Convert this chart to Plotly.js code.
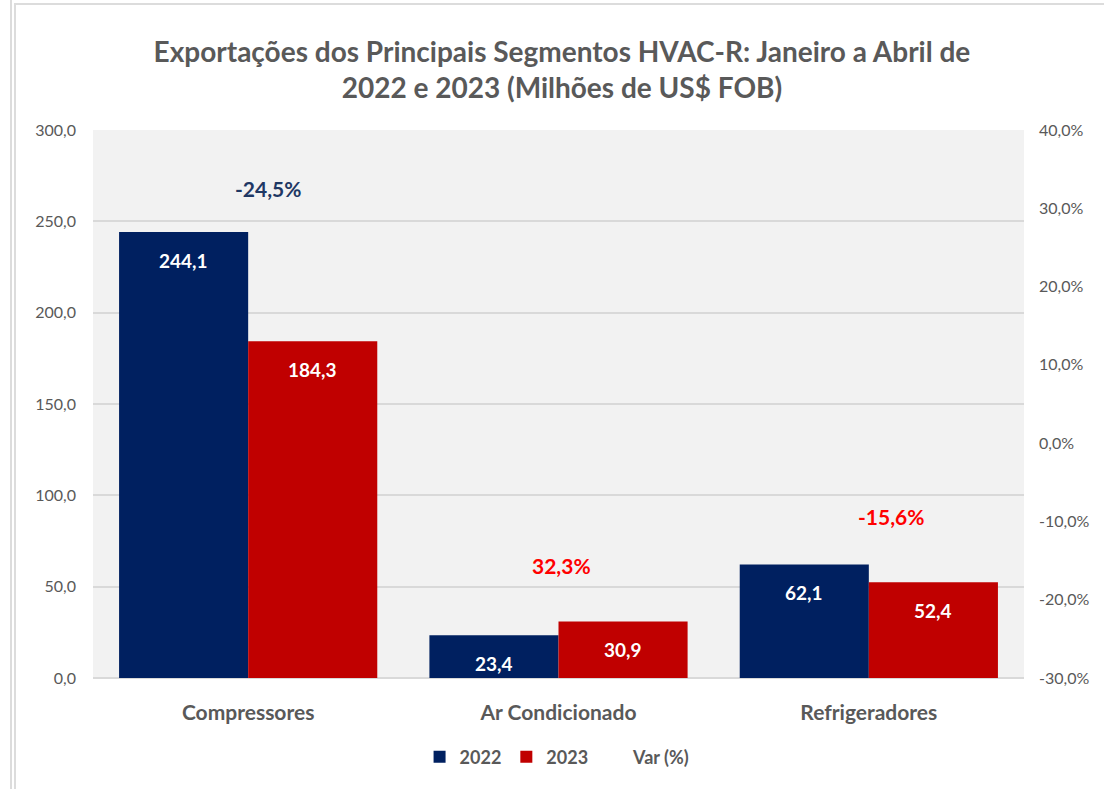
<!DOCTYPE html>
<html>
<head>
<meta charset="utf-8">
<script src="https://cdn.plot.ly/plotly-3.0.1.min.js"></script>
<style>
html,body{margin:0;padding:0;background:#fff;}
#chart{width:1104px;height:789px;position:absolute;left:0;top:0;}
.b1{position:absolute;left:10px;top:0;width:2px;height:789px;background:#dcdcdc;pointer-events:none;}
.b2{position:absolute;left:14px;top:3px;width:1090px;height:786px;border-left:2px solid #dcdcdc;border-top:2px solid #dcdcdc;pointer-events:none;box-sizing:border-box;}
</style>
</head>
<body>
<div id="chart"></div>
<div class="b1"></div>
<div class="b2"></div>
<script>
const categories = ["Compressores", "Ar Condicionado", "Refrigeradores"];
const values2022 = [244.1, 23.4, 62.1];
const values2023 = [184.3, 30.9, 52.4];
const varPct = [-24.5, 32.3, -15.6];
const leftTicks = [0, 50, 100, 150, 200, 250, 300];
const rightTicks = [-30, -20, -10, 0, 10, 20, 30, 40];

const C22 = "#002060", C23 = "#c00000", GRAY = "#595959";
const FONT = "Lato, 'Open Sans', sans-serif";
const fmt = v => v.toFixed(1).replace(".", ",");

const traces = [
  {type:"bar", name:"2022", x:categories, y:values2022, marker:{color:C22}, hoverinfo:"y"},
  {type:"bar", name:"2023", x:categories, y:values2023, marker:{color:C23}, hoverinfo:"y"},
  {type:"scatter", name:"Var (%)", x:categories, y:varPct, yaxis:"y2", mode:"lines",
   line:{color:"rgba(0,0,0,0)", width:0}, hoverinfo:"skip"}
];

const annotations = [];
const barHalf = 64.5;
categories.forEach((c, i) => {
  annotations.push({x:c, y:values2022[i], xref:"x", yref:"y", text:"<b>"+fmt(values2022[i])+"</b>",
    showarrow:false, xshift:-barHalf, yshift:-28, font:{family:FONT, size:19, color:"#ffffff"}});
  annotations.push({x:c, y:values2023[i], xref:"x", yref:"y", text:"<b>"+fmt(values2023[i])+"</b>",
    showarrow:false, xshift:barHalf, yshift:-28, font:{family:FONT, size:19, color:"#ffffff"}});
});
const varShift = [44, 56, 48];
const varXShift = [20, 3, 23];
const varColor = ["#1f3864", "#ff0000", "#ff0000"];
categories.forEach((c, i) => {
  annotations.push({x:c, y:Math.max(values2022[i], values2023[i]), xref:"x", yref:"y",
    text:"<b>"+fmt(varPct[i])+"%</b>", showarrow:false, yshift:varShift[i], xshift:varXShift[i],
    font:{family:FONT, size:21, color:varColor[i]}});
});

const layout = {
  width:1104, height:789,
  margin:{l:93, r:80, t:130, b:111, autoexpand:false},
  paper_bgcolor:"#ffffff", plot_bgcolor:"#f2f2f2",
  separators:",.",
  title:{text:"<b>Exportações dos Principais Segmentos HVAC-R: Janeiro a Abril de<br>2022 e 2023 (Milhões de US$ FOB)</b>",
    x:0.509, xanchor:"center", yref:"container", y:(789-62)/789, yanchor:"middle",
    font:{family:FONT, size:28, color:GRAY}},
  barmode:"group", bargap:0.168, bargroupgap:0,
  xaxis:{type:"category", showgrid:false, zeroline:false, showline:false, ticks:"", automargin:false,
    tickvals:categories, ticktext:categories.map(c => "<b>"+c+"</b>"),
    tickfont:{family:FONT, size:21, color:GRAY}, ticklabelstandoff:20},
  yaxis:{range:[0,300], tickvals:leftTicks, ticktext:leftTicks.map(fmt), showgrid:true, automargin:false,
    gridcolor:"#d9d9d9", gridwidth:2, zeroline:true, zerolinecolor:"#d9d9d9", zerolinewidth:2,
    showline:false, ticks:"", tickfont:{family:FONT, size:16, color:GRAY}, ticklabelstandoff:16},
  yaxis2:{overlaying:"y", side:"right", range:[-30,40], tickvals:rightTicks, automargin:false,
    ticktext:rightTicks.map(v => fmt(v)+"%"), showgrid:false, zeroline:false, showline:false,
    ticks:"", tickfont:{family:FONT, size:16, color:GRAY}, ticklabelstandoff:14},
  legend:{orientation:"h", x:0.499, xanchor:"center", yref:"container", y:32/789, yanchor:"middle",
    font:{family:FONT, size:18, color:GRAY, weight:"bold"}, itemwidth:30, traceorder:"normal"},
  annotations:annotations,
  showlegend:true
};

Plotly.newPlot("chart", traces, layout, {displayModeBar:false, staticPlot:true});
</script>
</body>
</html>
